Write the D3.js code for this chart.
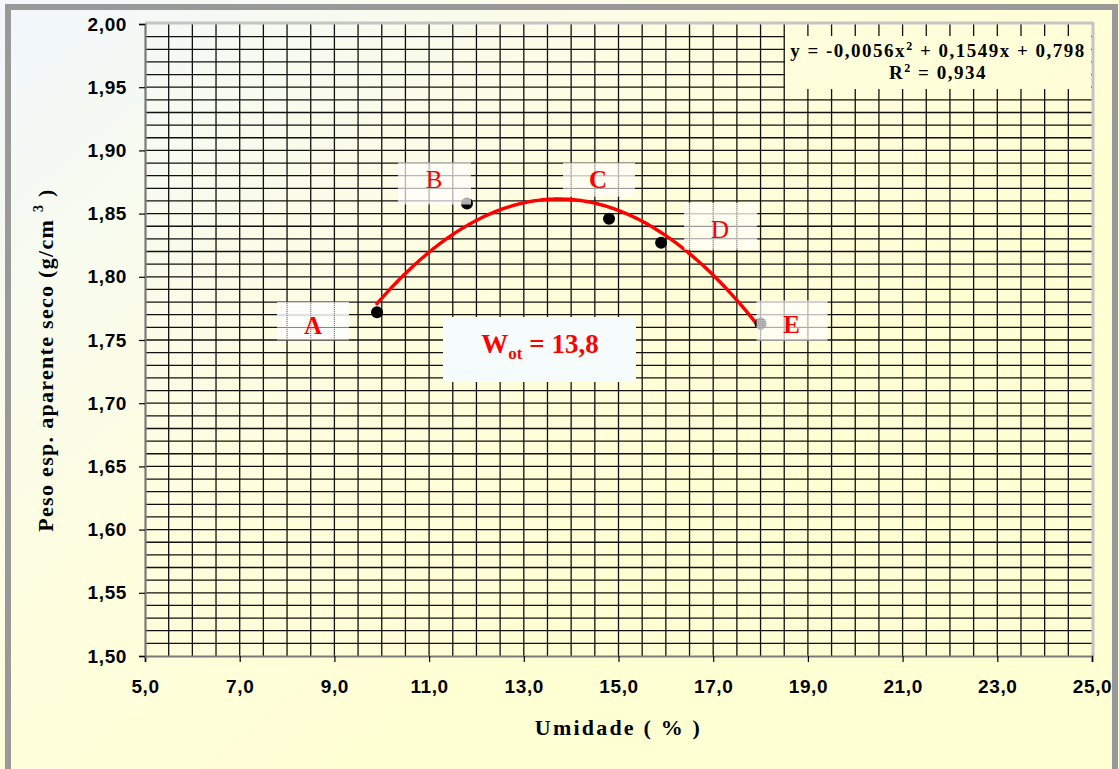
<!DOCTYPE html>
<html>
<head>
<meta charset="utf-8">
<script src="https://cdn.jsdelivr.net/npm/d3@7"></script>
<style>
  html, body { margin: 0; padding: 0; background: #ffffff; }
  svg { display: block; }
</style>
</head>
<body>
<div id="chart"></div>
<script>
// Ensaio de compactação: peso específico aparente seco x umidade
const pointNames = ["A", "B", "C", "D", "E"];
const umidade = [9.9, 11.8, 14.8, 15.9, 18.0];
const pesoSeco = [1.772, 1.858, 1.846, 1.827, 1.763];
// Polynomial trendline y = a x² + b x + c
const trendCoef = [-0.00564, 0.1549, 0.798];
const rSquared = 0.934;
const umidadeOtima = 13.8;
const xTickValues = [5, 7, 9, 11, 13, 15, 17, 19, 21, 23, 25];
const yTickValues = [1.50, 1.55, 1.60, 1.65, 1.70, 1.75, 1.80, 1.85, 1.90, 1.95, 2.00];

const W = 1119, H = 769;
const plot = { left: 145, right: 1092, top: 24, bottom: 656 };

const svg = d3.select("#chart").append("svg")
  .attr("width", W).attr("height", H);

const defs = svg.append("defs");
const bg = defs.append("linearGradient")
  .attr("id", "bgGrad").attr("gradientUnits", "userSpaceOnUse")
  .attr("x1", 0).attr("y1", 0).attr("x2", 520).attr("y2", 640);
bg.append("stop").attr("offset", 0).attr("stop-color", "#f1f7fd");
bg.append("stop").attr("offset", 0.3).attr("stop-color", "#f8fbee");
bg.append("stop").attr("offset", 0.65).attr("stop-color", "#fffedd");
bg.append("stop").attr("offset", 1).attr("stop-color", "#ffffd4");

const stripes = defs.append("pattern")
  .attr("id", "stripes").attr("patternUnits", "userSpaceOnUse")
  .attr("width", 8).attr("height", 2);
stripes.append("rect").attr("width", 8).attr("height", 1.1).attr("fill", "#ffffff");

// chart background and frame
svg.append("rect").attr("x", 0).attr("y", 0).attr("width", W).attr("height", H)
  .attr("fill", "url(#bgGrad)");
svg.append("rect").attr("x", 8).attr("y", 7).attr("width", 1107).attr("height", 780)
  .attr("fill", "none").attr("stroke", "#999999").attr("stroke-width", 6);

const x = d3.scaleLinear().domain([5, 25]).range([plot.left, plot.right]);
const y = d3.scaleLinear().domain([1.5, 2.0]).range([plot.bottom, plot.top]);

// grid: every 0.5 in x, every 0.01 in y
const gGrid = svg.append("g");
const vLines = d3.range(5.5, 25, 0.5);
const hLines = d3.range(1, 50).map(i => 1.5 + i * 0.01);
gGrid.selectAll("line.v").data(vLines).join("line")
  .attr("x1", d => x(d)).attr("x2", d => x(d))
  .attr("y1", plot.top).attr("y2", plot.bottom)
  .attr("stroke", "#111").attr("stroke-width", 1.3);
gGrid.selectAll("line.h").data(hLines).join("line")
  .attr("x1", plot.left).attr("x2", plot.right)
  .attr("y1", d => y(d)).attr("y2", d => y(d))
  .attr("stroke", "#111").attr("stroke-width", 1.3);

// plot border
svg.append("line").attr("x1", plot.left).attr("x2", plot.right + 1)
  .attr("y1", plot.top - 1).attr("y2", plot.top - 1)
  .attr("stroke", "#c4c4c4").attr("stroke-width", 3);
svg.append("line").attr("x1", plot.right + 1).attr("x2", plot.right + 1)
  .attr("y1", plot.top - 2).attr("y2", plot.bottom)
  .attr("stroke", "#c4c4c4").attr("stroke-width", 3);

// axes
const fmtX = d => d3.format(".1f")(d).replace(".", ",");
const fmtY = d => d3.format(".2f")(d).replace(".", ",");

const xAxis = svg.append("g").attr("transform", `translate(0,${plot.bottom})`)
  .call(d3.axisBottom(x).tickValues(xTickValues).tickFormat(fmtX).tickSize(6).tickPadding(18));
const yAxis = svg.append("g").attr("transform", `translate(${plot.left},0)`)
  .call(d3.axisLeft(y).tickValues(yTickValues).tickFormat(fmtY).tickSize(6).tickPadding(12));
[xAxis, yAxis].forEach(g => {
  g.select(".domain").attr("stroke", "#7a7a7a").attr("stroke-width", 2.2);
  g.selectAll(".tick line").attr("stroke", "#000").attr("stroke-width", 1.2);
  g.selectAll(".tick text")
    .attr("font-family", "'Liberation Sans', Arial, sans-serif")
    .attr("font-weight", "bold").attr("font-size", 19)
    .attr("letter-spacing", 0.6).attr("fill", "#000");
});

// axis titles
svg.append("text")
  .attr("x", (plot.left + plot.right) / 2).attr("y", 735)
  .attr("text-anchor", "middle")
  .attr("font-family", "'Liberation Serif', 'Times New Roman', serif")
  .attr("font-weight", "bold").attr("font-size", 22).attr("letter-spacing", 2.2)
  .text("Umidade ( % )");

const yTitle = svg.append("text")
  .attr("transform", `translate(53,360) rotate(-90)`)
  .attr("text-anchor", "middle")
  .attr("font-family", "'Liberation Serif', 'Times New Roman', serif")
  .attr("font-weight", "bold").attr("font-size", 22).attr("letter-spacing", 1.3);
yTitle.append("tspan").text("Peso esp. aparente seco (g/cm ");
yTitle.append("tspan").attr("font-size", 14).attr("dy", -10).text("3");
yTitle.append("tspan").attr("dy", 10).text(" )");

// trendline
const xExtent = d3.extent(umidade);
const trend = v => trendCoef[0] * v * v + trendCoef[1] * v + trendCoef[2];
const curveX = d3.range(xExtent[0], xExtent[1] + 1e-9, 0.05);
svg.append("path")
  .datum(curveX)
  .attr("fill", "none").attr("stroke", "#ff0000").attr("stroke-width", 3.4)
  .attr("stroke-linejoin", "round").attr("stroke-linecap", "round")
  .attr("d", d3.line().x(d => x(d)).y(d => y(trend(d))).curve(d3.curveMonotoneX));

// data points
const pts = pointNames.map((n, i) => ({ name: n, u: umidade[i], p: pesoSeco[i] }));
svg.selectAll("circle.pt").data(pts).join("circle")
  .attr("cx", d => x(d.u)).attr("cy", d => y(d.p)).attr("r", 6)
  .attr("fill", "#000");

// point labels: box offsets [x0, y0, x1, y1] and text centre relative to the point
const labelLayout = {
  A: { box: [-100, -10, -28, 28], t: [-64, 13], bold: true },
  B: { box: [-69, -41, 4, 1], t: [-33, -24], bold: false },
  C: { box: [-46, -56, 26, -22], t: [-11, -39], bold: true },
  D: { box: [23, -40, 96, 7], t: [59, -13], bold: false },
  E: { box: [-4, -23, 67, 17], t: [31, 1], bold: true }
};
const gLab = svg.selectAll("g.lab").data(pts).join("g")
  .attr("transform", d => `translate(${x(d.u)},${y(d.p)})`);
gLab.append("rect")
  .attr("x", d => labelLayout[d.name].box[0]).attr("y", d => labelLayout[d.name].box[1])
  .attr("width", d => labelLayout[d.name].box[2] - labelLayout[d.name].box[0])
  .attr("height", d => labelLayout[d.name].box[3] - labelLayout[d.name].box[1])
  .attr("fill", "#ffffff").attr("fill-opacity", 0.3);
gLab.append("rect")
  .attr("x", d => labelLayout[d.name].box[0]).attr("y", d => labelLayout[d.name].box[1])
  .attr("width", d => labelLayout[d.name].box[2] - labelLayout[d.name].box[0])
  .attr("height", d => labelLayout[d.name].box[3] - labelLayout[d.name].box[1])
  .attr("fill", "url(#stripes)");
gLab.append("text")
  .attr("x", d => labelLayout[d.name].t[0]).attr("y", d => labelLayout[d.name].t[1])
  .attr("dy", "0.35em").attr("text-anchor", "middle")
  .attr("font-family", "'Liberation Serif', 'Times New Roman', serif")
  .attr("font-weight", d => labelLayout[d.name].bold ? "bold" : "normal")
  .attr("font-size", 25).attr("fill", "#ff0000")
  .text(d => d.name);

// optimum moisture box
svg.append("rect").attr("x", 443).attr("y", 317).attr("width", 193).attr("height", 65)
  .attr("fill", "#f6fcfc");
const wText = svg.append("text")
  .attr("x", 540).attr("y", 353).attr("text-anchor", "middle")
  .attr("font-family", "'Liberation Serif', 'Times New Roman', serif")
  .attr("font-weight", "bold").attr("font-size", 27).attr("fill", "#ff0000");
wText.append("tspan").text("W");
wText.append("tspan").attr("font-size", 17).attr("dy", 6).text("ot");
wText.append("tspan").attr("dy", -6).text(" = " + String(umidadeOtima).replace(".", ","));

// trendline equation box
svg.append("rect").attr("x", 785).attr("y", 36).attr("width", 306).attr("height", 53)
  .attr("fill", "url(#bgGrad)");
const fmtCoef = (v, p) => d3.format(`.${p}f`)(Math.abs(v)).replace(".", ",");
const sign = v => v < 0 ? "-" : "";
const eq = svg.append("text")
  .attr("x", 938).attr("y", 57).attr("text-anchor", "middle")
  .attr("font-family", "'Liberation Serif', 'Times New Roman', serif")
  .attr("font-weight", "bold").attr("font-size", 19).attr("letter-spacing", 1.5)
  .attr("fill", "#000");
eq.append("tspan").text(`y = ${sign(trendCoef[0])}${fmtCoef(trendCoef[0], 4)}x`);
eq.append("tspan").attr("font-size", 12).attr("dy", -7).text("2");
eq.append("tspan").attr("dy", 7)
  .text(` ${trendCoef[1] < 0 ? "-" : "+"} ${fmtCoef(trendCoef[1], 4)}x ${trendCoef[2] < 0 ? "-" : "+"} ${fmtCoef(trendCoef[2], 3)}`);
const r2 = svg.append("text")
  .attr("x", 938).attr("y", 79).attr("text-anchor", "middle")
  .attr("font-family", "'Liberation Serif', 'Times New Roman', serif")
  .attr("font-weight", "bold").attr("font-size", 19).attr("letter-spacing", 1.5)
  .attr("fill", "#000");
r2.append("tspan").text("R");
r2.append("tspan").attr("font-size", 12).attr("dy", -7).text("2");
r2.append("tspan").attr("dy", 7).text(" = " + fmtCoef(rSquared, 3));
</script>
</body>
</html>
